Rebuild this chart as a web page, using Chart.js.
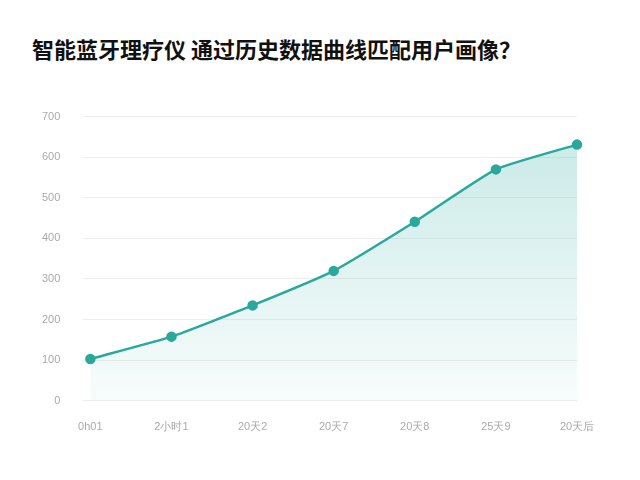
<!DOCTYPE html><html><head><meta charset="utf-8">
<script src="https://cdn.jsdelivr.net/npm/chart.js@4"></script>
<style>body{margin:0;background:#fff;font-family:"Noto Sans CJK SC",sans-serif}
h1{position:absolute;left:32px;top:32px;margin:0;font-size:22px;font-weight:700;color:#111}
#w{position:absolute;left:20px;top:88px;width:600px;height:362px}</style></head><body>
<h1>智能蓝牙理疗仪 通过历史数据曲线匹配用户画像？</h1>
<div id="w"><canvas id="c"></canvas></div>
<script>
const categories=["0h01","2小时1","20天2","20天7","20天8","25天9","20天后"];
const values=[103,158,235,320,441,570,631];
const ctx=document.getElementById('c').getContext('2d');
const g=ctx.createLinearGradient(0,40,0,330);
g.addColorStop(0,'rgba(38,170,160,0.25)');g.addColorStop(1,'rgba(38,170,160,0.02)');
new Chart(ctx,{type:'line',data:{labels:categories,datasets:[{data:values,borderColor:'#2aa89c',borderWidth:2.5,backgroundColor:g,fill:true,tension:0.15,pointRadius:4,pointBackgroundColor:'#2aa89c',pointBorderColor:'#2aa89c'}]},
options:{responsive:true,maintainAspectRatio:false,animation:false,plugins:{legend:{display:false}},
layout:{padding:{right:43,top:8,bottom:4}},
scales:{x:{offset:false,grid:{display:false},border:{display:false},ticks:{color:'#aaa',font:{size:11},padding:12}},
y:{min:0,max:700,ticks:{stepSize:100,color:'#aaa',font:{size:11},padding:22},grid:{color:'#eee'},border:{display:false}}}}});
</script></body></html>
